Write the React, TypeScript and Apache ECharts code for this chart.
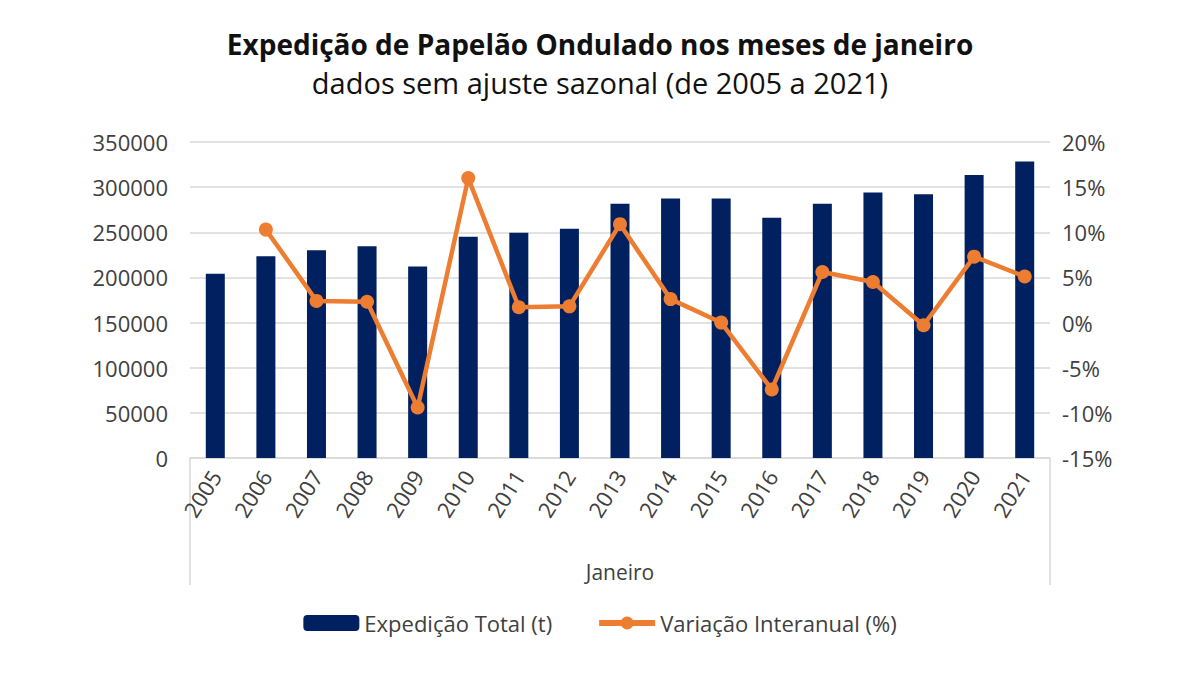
import React, { useEffect, useRef } from "react";
import * as echarts from "echarts";

const YEARS = [
  "2005", "2006", "2007", "2008", "2009", "2010", "2011", "2012", "2013",
  "2014", "2015", "2016", "2017", "2018", "2019", "2020", "2021",
];
const EXPEDICAO = [
  204000, 223500, 230000, 234500, 212000, 245000, 249500, 254000, 281500,
  287500, 287500, 266000, 281500, 294000, 292000, 313500, 328500,
];
const VARIACAO: (number | null)[] = [
  null, 10.3, 2.4, 2.3, -9.4, 16.0, 1.7, 1.8, 10.9,
  2.6, 0.0, -7.4, 5.6, 4.5, -0.3, 7.3, 5.1,
];

const FONT = "'Open Sans', 'DejaVu Sans', sans-serif";
const GRID_LEFT = 190;
const GRID_RIGHT = 150;
const GRID_TOP = 142;
const GRID_BOTTOM = 217;

export default function App() {
  const ref = useRef<HTMLDivElement | null>(null);

  useEffect(() => {
    if (!ref.current) return;
    const chart = echarts.init(ref.current, undefined, { renderer: "svg" });
    const w = chart.getWidth();
    const h = chart.getHeight();
    const x0 = GRID_LEFT;
    const x1 = w - GRID_RIGHT;
    const yAxis = h - GRID_BOTTOM;

    const option: echarts.EChartsOption = {
      animation: false,
      backgroundColor: "#ffffff",
      textStyle: { fontFamily: FONT },
      title: {
        text: "Expedição de Papelão Ondulado nos meses de janeiro",
        subtext: "dados sem ajuste sazonal (de 2005 a 2021)",
        left: "center",
        top: 25,
        itemGap: 10,
        textStyle: { fontFamily: FONT, fontSize: 28, fontWeight: "bold", color: "#111" },
        subtextStyle: { fontFamily: FONT, fontSize: 29, color: "#111" },
      },
      legend: {
        bottom: 36,
        left: "center",
        itemWidth: 56,
        itemHeight: 16,
        itemGap: 44,
        textStyle: { fontFamily: FONT, fontSize: 22, color: "#404040" },
        data: [
          { name: "Expedição Total (t)" },
          {
            name: "Variação Interanual (%)",
            itemStyle: { color: "#ED7D31" },
            lineStyle: { color: "#ED7D31", width: 6 },
          },
        ],
      },
      grid: { left: GRID_LEFT, right: GRID_RIGHT, top: GRID_TOP, bottom: GRID_BOTTOM },
      xAxis: {
        type: "category",
        data: YEARS,
        name: "Janeiro",
        nameLocation: "middle",
        nameGap: 103,
        nameTextStyle: { fontFamily: FONT, fontSize: 21, color: "#404040" },
        axisLine: { lineStyle: { color: "#D9D9D9", width: 1.5 } },
        axisTick: { show: false },
        axisLabel: { rotate: 58, fontSize: 22, color: "#404040", margin: 14, interval: 0 },
      },
      yAxis: [
        {
          type: "value",
          min: 0,
          max: 350000,
          interval: 50000,
          axisLine: { show: false },
          axisTick: { show: false },
          axisLabel: {
            fontSize: 22,
            color: "#404040",
            margin: 22,
            formatter: (v: number) => String(v),
          },
          splitLine: { lineStyle: { color: "#D9D9D9", width: 1.5 } },
        },
        {
          type: "value",
          min: -15,
          max: 20,
          interval: 5,
          axisLine: { show: false },
          axisTick: { show: false },
          axisLabel: {
            fontSize: 22,
            color: "#404040",
            margin: 12,
            formatter: (v: number) => `${v}%`,
          },
          splitLine: { show: false },
        },
      ],
      series: [
        {
          name: "Expedição Total (t)",
          type: "bar",
          data: EXPEDICAO,
          barWidth: 19,
          itemStyle: { color: "#002060" },
        },
        {
          name: "Variação Interanual (%)",
          type: "line",
          yAxisIndex: 1,
          data: VARIACAO,
          symbol: "circle",
          symbolSize: 14,
          lineStyle: { color: "#ED7D31", width: 4.5 },
          itemStyle: { color: "#ED7D31" },
        },
      ],
      graphic: [
        {
          type: "line",
          shape: { x1: x0, y1: yAxis, x2: x0, y2: yAxis + 127 },
          style: { stroke: "#D9D9D9", lineWidth: 1.5 },
        },
        {
          type: "line",
          shape: { x1: x1, y1: yAxis, x2: x1, y2: yAxis + 127 },
          style: { stroke: "#D9D9D9", lineWidth: 1.5 },
        },
      ],
    };
    chart.setOption(option);
    return () => chart.dispose();
  }, []);

  return (
    <div
      ref={ref}
      style={{ position: "fixed", left: 0, top: 0, width: 1200, height: 675, background: "#fff" }}
    />
  );
}
